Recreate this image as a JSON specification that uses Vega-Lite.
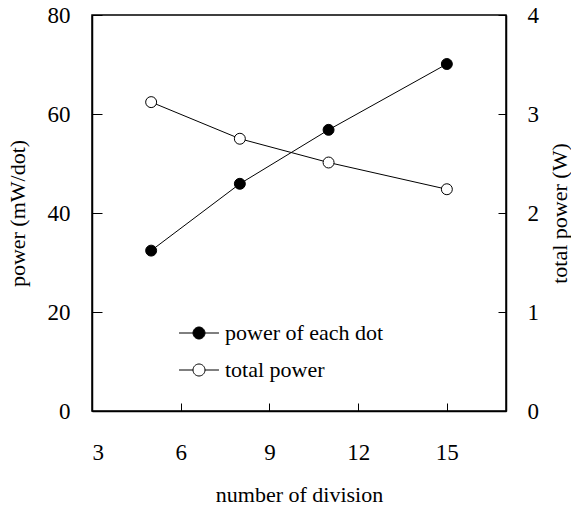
{
  "$schema": "https://vega.github.io/schema/vega-lite/v6.json",
  "width": 414,
  "height": 396,
  "autosize": "none",
  "padding": {"left": 92, "top": 15, "right": 65, "bottom": 97},
  "background": "white",
  "config": {
    "view": {"stroke": "black", "strokeWidth": 1.5},
    "font": "Liberation Serif",
    "axis": {
      "labelFont": "Liberation Serif",
      "labelFontSize": 23,
      "labelColor": "black",
      "titleFont": "Liberation Serif",
      "titleFontSize": 22,
      "titleFontWeight": "normal",
      "titleColor": "black",
      "domainColor": "black",
      "domainWidth": 1.5,
      "tickColor": "black",
      "tickWidth": 1,
      "grid": false
    },
    "legend": {
      "labelFont": "Liberation Serif",
      "labelFontSize": 22,
      "labelColor": "black"
    }
  },
  "data": {
    "values": [
      {"division": 5, "series": "power of each dot", "value": 32.4},
      {"division": 8, "series": "power of each dot", "value": 45.9},
      {"division": 11, "series": "power of each dot", "value": 56.8},
      {"division": 15, "series": "power of each dot", "value": 70.1},
      {"division": 5, "series": "total power", "value": 3.12},
      {"division": 8, "series": "total power", "value": 2.75},
      {"division": 11, "series": "total power", "value": 2.51},
      {"division": 15, "series": "total power", "value": 2.24}
    ]
  },
  "encoding": {
    "x": {
      "field": "division",
      "type": "quantitative",
      "scale": {"domain": [3, 17], "nice": false, "zero": false},
      "axis": {
        "title": "number of division",
        "values": [3, 6, 9, 12, 15],
        "tickSize": -8,
        "labelPadding": 38,
        "titlePadding": 20
      }
    }
  },
  "layer": [
    {
      "transform": [{"filter": "datum.series === 'power of each dot'"}],
      "encoding": {
        "y": {
          "field": "value",
          "type": "quantitative",
          "scale": {"domain": [0, 80], "nice": false},
          "axis": {
            "orient": "left",
            "title": "power (mW/dot)",
            "values": [0, 20, 40, 60, 80],
            "tickSize": -10,
            "labelPadding": 32,
            "titlePadding": 18
          }
        }
      },
      "layer": [
        {"mark": {"type": "line", "color": "black", "strokeWidth": 1}},
        {
          "mark": {"type": "point", "filled": true, "size": 120, "stroke": "black", "strokeWidth": 1, "opacity": 1},
          "encoding": {
            "fill": {
              "field": "series",
              "type": "nominal",
              "scale": {"domain": ["power of each dot", "total power"], "range": ["black", "white"]},
              "legend": {
                "title": null,
                "orient": "none",
                "legendX": 96,
                "legendY": 307,
                "symbolType": "M-3.33,0L-1,0M1,0L3.33,0M-1,0A1,1,0,1,1,1,0A1,1,0,1,1,-1,0Z",
                "symbolSize": 144,
                "symbolStrokeColor": "black",
                "symbolStrokeWidth": 1,
                "symbolOpacity": 1,
                "labelOffset": 15,
                "rowPadding": 15
              }
            }
          }
        }
      ]
    },
    {
      "transform": [{"filter": "datum.series === 'total power'"}],
      "encoding": {
        "y": {
          "field": "value",
          "type": "quantitative",
          "scale": {"domain": [0, 4], "nice": false},
          "axis": {
            "orient": "right",
            "title": "total power (W)",
            "values": [0, 1, 2, 3, 4],
            "tickSize": -8,
            "labelPadding": 29,
            "titlePadding": 33,
            "titleAngle": 270
          }
        }
      },
      "layer": [
        {"mark": {"type": "line", "color": "black", "strokeWidth": 1}},
        {
          "mark": {"type": "point", "filled": true, "size": 120, "stroke": "black", "strokeWidth": 1, "opacity": 1},
          "encoding": {
            "fill": {
              "field": "series",
              "type": "nominal",
              "scale": {"domain": ["power of each dot", "total power"], "range": ["black", "white"]}
            }
          }
        }
      ]
    }
  ],
  "resolve": {"scale": {"y": "independent"}, "axis": {"y": "independent"}}
}
